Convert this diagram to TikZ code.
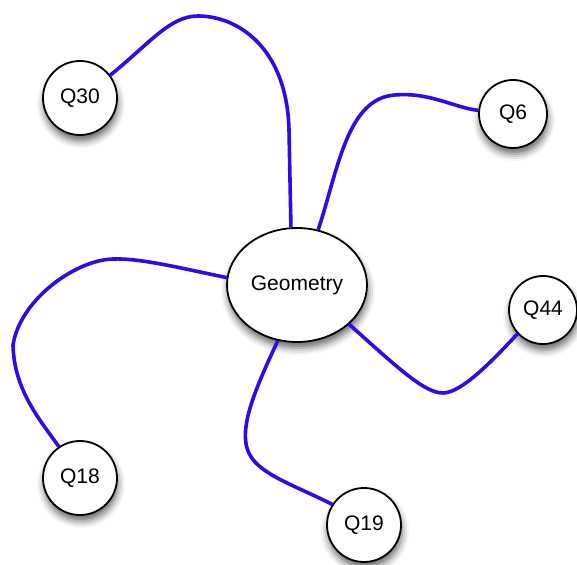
\documentclass[tikz,border=0pt]{standalone}
\usepackage{fontspec}
\setmainfont{Liberation Sans}
\usepackage{tikz}
\usetikzlibrary{shapes.geometric, shadows.blur}
\usepackage{xcolor}
\definecolor{linkblue}{RGB}{48,8,236}

\begin{document}
\begin{tikzpicture}[x=0.5pt, y=-0.5pt,
    topic/.style={ellipse, draw, line width=0.9pt, fill=white, inner sep=0pt,
      minimum width=70pt, minimum height=57pt, font=\fontsize{10.5}{12}\selectfont,
      blur shadow={shadow xshift=0.5pt, shadow yshift=-3pt, shadow blur radius=3.5pt, shadow opacity=60}},
    question/.style={circle, draw, line width=0.9pt, fill=white, inner sep=0pt,
      minimum size=37pt, font=\fontsize{10.5}{12}\selectfont,
      blur shadow={shadow xshift=0.5pt, shadow yshift=-3pt, shadow blur radius=3.5pt, shadow opacity=60}},
    link/.style={linkblue, line width=1.8pt}]
    \useasboundingbox (0,0) rectangle (577,565);

    % nodes
    \node[question] (q30) at (80,98) {Q30};
    \node[question, minimum size=34pt] (q6) at (513,114) {Q6};
    \node[question, minimum size=34pt] (q44) at (543,310) {Q44};
    \node[question] (q18) at (80,478) {Q18};
    \node[question] (q19) at (364,525) {Q19};
    \node[topic] (geo) at (297,285) {Geometry};

    % links, border to border
    \draw[link] (q30.37) .. controls (150,43) and (170,16) .. (198,16)
      .. controls (238,16) and (287,48) .. (289,130) -- (geo.96);
    \draw[link] (geo.69) .. controls (338,170) and (347,98) .. (395,95)
      .. controls (430,92) and (455,108) .. (q6.174);
    \draw[link] (geo.323) .. controls (400,370) and (425,393) .. (443,393)
      .. controls (462,393) and (495,358) .. (q44.223);
    \draw[link] (geo.251) .. controls (250,400) and (234,440) .. (255,462)
      .. controls (270,478) and (300,488) .. (q19.147);
    \draw[link] (geo.174) .. controls (180,268) and (140,258) .. (113,259)
      .. controls (75,260) and (20,300) .. (13,345)
      .. controls (14,390) and (40,420) .. (q18.124);
  \end{tikzpicture}
\end{document}
